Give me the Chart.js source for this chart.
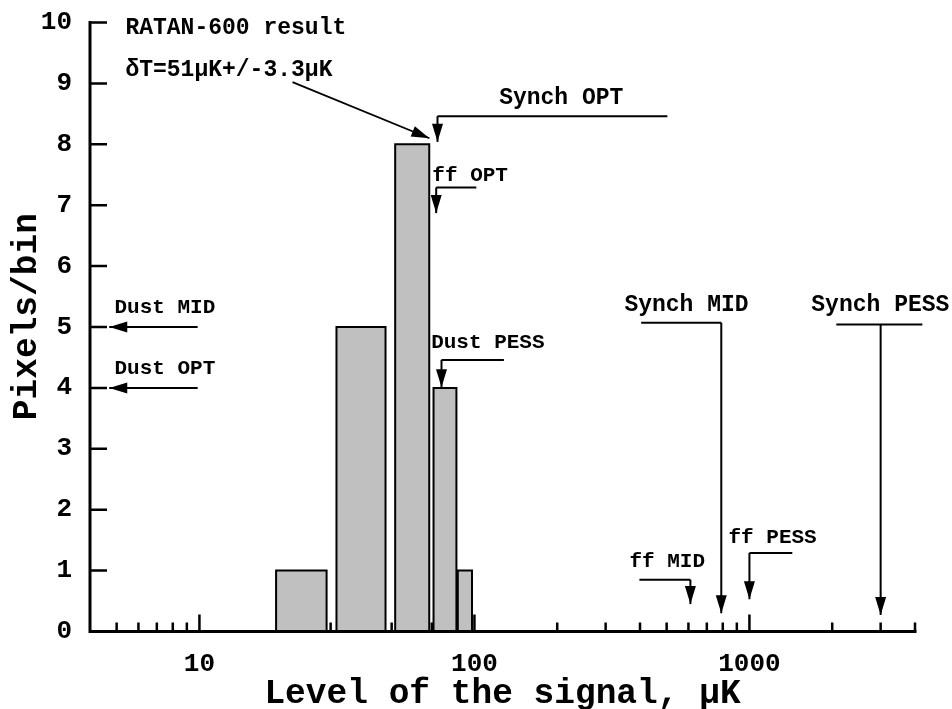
<!DOCTYPE html>
<html>
<head>
<meta charset="utf-8">
<script src="https://cdn.jsdelivr.net/npm/chart.js@4"></script>
<style>
  body { margin: 0; background: #fff; }
  #wrap { width: 952px; height: 709px; }
</style>
</head>
<body>
<div id="wrap"><canvas id="hist"></canvas></div>
<script>
// histogram bins, uK
var binLow = [19, 31.5, 51.5, 71, 87];
var binHigh = [29, 47.5, 68.5, 86, 98];
var pixelsPerBin = [1, 5, 8, 4, 1];

// x axis marks
var xMajor = [10, 100, 1000];
var xMinor = [5, 6, 7, 8, 9, 20, 30, 40, 50, 60, 70, 80, 90,
              200, 300, 400, 500, 600, 700, 800, 900, 2000, 3000, 4000];

// foreground estimates, uK
var modelNames = ['Synch OPT', 'ff OPT', 'Dust PESS', 'Synch MID', 'Synch PESS', 'ff MID', 'ff PESS'];
var modelLevels = [73.4, 72.6, 75.9, 790, 3000, 610, 1000];
var dustNames = ['Dust MID', 'Dust OPT'];
var dustRows = [5, 4];

var resultTitle = 'RATAN-600 result';
var resultText = '\u03b4T=51\u03bcK+/-3.3\u03bcK';

var MONO = '"Liberation Mono", "Courier New", monospace';

// where each callout's leader bends and where its label sits (data units)
var calloutLayout = [
  { tip: 8.04, bend: 8.46, tail: [503],        lx: 123,  ly: 8.76, size: 23 },
  { tip: 6.87, bend: 7.29, tail: [101.6],      lx: 70.3, ly: 7.48, size: 21 },
  { tip: 4.01, bend: 4.46, tail: [128],        lx: 69.6, ly: 4.74, size: 21 },
  { tip: 0.30, bend: 5.07, tail: [404],        lx: 351,  ly: 5.36, size: 23 },
  { tip: 0.27, bend: 5.04, tail: [2070, 4255], lx: 1679, ly: 5.36, size: 23 },
  { tip: 0.45, bend: 0.85, tail: [398],        lx: 366,  ly: 1.14, size: 21 },
  { tip: 0.53, bend: 1.29, tail: [1432],       lx: 839,  ly: 1.54, size: 21 }
];

// one closed outline per bin, filled down to zero
var datasets = binLow.map(function (lo, i) {
  var hi = binHigh[i], n = pixelsPerBin[i];
  return {
    data: [{x: lo, y: 0}, {x: lo, y: n}, {x: hi, y: n}, {x: hi, y: 0}],
    showLine: true,
    fill: 'origin',
    backgroundColor: '#c0c0c0',
    borderColor: '#000',
    borderWidth: 2,
    borderJoinStyle: 'miter',
    pointRadius: 0,
    tension: 0
  };
});

function arrowHead(ctx, x1, y1, x2, y2) {
  var ang = Math.atan2(y2 - y1, x2 - x1), len = 18, half = 5.5;
  ctx.beginPath();
  ctx.moveTo(x2, y2);
  ctx.lineTo(x2 - len * Math.cos(ang) + half * Math.sin(ang), y2 - len * Math.sin(ang) - half * Math.cos(ang));
  ctx.lineTo(x2 - len * Math.cos(ang) - half * Math.sin(ang), y2 - len * Math.sin(ang) + half * Math.cos(ang));
  ctx.closePath();
  ctx.fill();
}

function arrow(ctx, x1, y1, x2, y2) {
  ctx.beginPath();
  ctx.moveTo(x1, y1);
  ctx.lineTo(x2, y2);
  ctx.stroke();
  arrowHead(ctx, x1, y1, x2, y2);
}

var axesAndNotes = {
  id: 'axesAndNotes',
  beforeDatasetsDraw: function (chart) {
    var ctx = chart.ctx, xs = chart.scales.x, ys = chart.scales.y, a = chart.chartArea;
    ctx.save();
    ctx.strokeStyle = '#000';
    ctx.lineWidth = 2.5;
    ctx.beginPath();
    xMajor.forEach(function (v) {
      var px = xs.getPixelForValue(v);
      ctx.moveTo(px, a.bottom); ctx.lineTo(px, a.bottom - 17);
    });
    xMinor.forEach(function (v) {
      var px = xs.getPixelForValue(v);
      ctx.moveTo(px, a.bottom); ctx.lineTo(px, a.bottom - 9);
    });
    ys.ticks.forEach(function (t) {
      var py = ys.getPixelForValue(t.value);
      ctx.moveTo(a.left, py); ctx.lineTo(a.left + 17, py);
    });
    ctx.stroke();
    ctx.restore();
  },
  afterDatasetsDraw: function (chart) {
    var ctx = chart.ctx, xs = chart.scales.x, ys = chart.scales.y, a = chart.chartArea;
    var X = function (v) { return xs.getPixelForValue(v); };
    var Y = function (v) { return ys.getPixelForValue(v); };
    ctx.save();

    // axis lines
    ctx.strokeStyle = '#000';
    ctx.lineWidth = 3;
    ctx.lineCap = 'square';
    ctx.beginPath();
    ctx.moveTo(a.left, a.top);
    ctx.lineTo(a.left, a.bottom);
    ctx.lineTo(X(4000), a.bottom);
    ctx.stroke();

    ctx.lineCap = 'butt';
    ctx.lineWidth = 2;
    ctx.fillStyle = '#000';
    ctx.textBaseline = 'middle';
    ctx.textAlign = 'left';

    // callouts from above
    modelNames.forEach(function (name, i) {
      var c = calloutLayout[i], vx = X(modelLevels[i]), by = Y(c.bend);
      ctx.beginPath();
      c.tail.forEach(function (t) { ctx.moveTo(X(t), by); ctx.lineTo(vx, by); });
      ctx.stroke();
      arrow(ctx, vx, by, vx, Y(c.tip));
      ctx.font = 'bold ' + c.size + 'px ' + MONO;
      ctx.fillText(name, X(c.lx), Y(c.ly));
    });

    // dust levels off the left edge
    dustNames.forEach(function (name, i) {
      var py = Y(dustRows[i]);
      arrow(ctx, X(9.85), py, X(4.7), py);
      ctx.font = 'bold 21px ' + MONO;
      ctx.fillText(name, X(4.91), Y(dustRows[i] + 0.32));
    });

    // measured result
    ctx.font = 'bold 23px ' + MONO;
    ctx.fillText(resultTitle, X(5.38), Y(9.91));
    ctx.fillText(resultText, X(5.38), Y(9.22));
    ctx.lineWidth = 1.8;
    arrow(ctx, X(21.8), Y(9.02), X(68.6), Y(8.1));

    ctx.restore();
  }
};

new Chart(document.getElementById('hist'), {
  type: 'scatter',
  data: { datasets: datasets },
  plugins: [axesAndNotes],
  options: {
    responsive: true,
    maintainAspectRatio: false,
    animation: false,
    layout: { padding: { top: 22.5, right: 37, left: 0, bottom: 0 } },
    plugins: { legend: { display: false }, tooltip: { enabled: false } },
    scales: {
      x: {
        type: 'logarithmic',
        min: 4,
        max: 4000,
        afterBuildTicks: function (s) {
          s.ticks = xMajor.map(function (v) { return { value: v }; });
        },
        afterFit: function (s) { s.height = 77.5; s.paddingLeft = 0; s.paddingRight = 0; },
        grid: { display: false, drawTicks: false },
        border: { display: false },
        ticks: {
          autoSkip: false,
          maxRotation: 0,
          padding: 17,
          color: '#000',
          font: { family: MONO, size: 26, weight: 'bold' },
          callback: function (v) { return String(v); }
        },
        title: {
          display: true,
          text: 'Level of the signal, \u03bcK',
          color: '#000',
          padding: { top: 0, bottom: -3 },
          font: { family: MONO, size: 34.5, weight: 'bold', lineHeight: 1 }
        }
      },
      y: {
        min: 0,
        max: 10,
        afterFit: function (s) { s.width = 90; s.paddingTop = 0; s.paddingBottom = 0; },
        grid: { display: false, drawTicks: false },
        border: { display: false },
        ticks: {
          stepSize: 1,
          padding: 18,
          color: '#000',
          font: { family: MONO, size: 26, weight: 'bold' }
        },
        title: {
          display: true,
          text: ' Pixels/bin',
          color: '#000',
          padding: { top: 10, bottom: 0 },
          font: { family: MONO, size: 34.5, weight: 'bold', lineHeight: 1 }
        }
      }
    }
  }
});
</script>
</body>
</html>
